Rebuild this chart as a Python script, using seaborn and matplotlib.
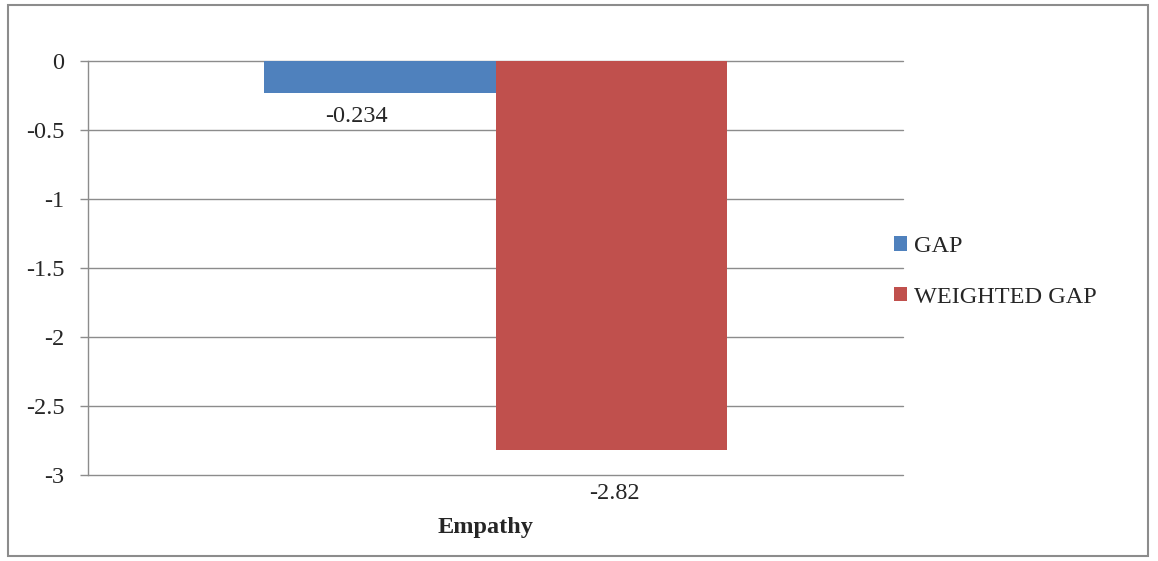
import matplotlib
matplotlib.use("Agg")
import matplotlib.pyplot as plt
import matplotlib.transforms as mtransforms
import seaborn as sns
import pandas as pd
from matplotlib.patches import Rectangle

# Data
categories = ["Empathy"]
series = ["GAP", "WEIGHTED GAP"]
values = [-0.234, -2.82]
value_labels = ["-0.234", "-2.82"]
yticks = [0, -0.5, -1, -1.5, -2, -2.5, -3]
ytick_labels = ["0", "-0.5", "-1", "-1.5", "-2", "-2.5", "-3"]
colors = ["#4F81BD", "#C0504D"]

df = pd.DataFrame({
    "category": categories * len(series),
    "series": series,
    "value": values,
})

sns.set_theme(style="white")
plt.rcParams["font.family"] = ["Liberation Serif", "DejaVu Serif"]
plt.rcParams["axes.unicode_minus"] = False

FS = 17.5

fig = plt.figure(figsize=(11.58, 5.61), dpi=100)
ax = fig.add_axes([88 / 1158, 1 - 475 / 561, (903 - 88) / 1158, (475 - 61) / 561])

sns.barplot(data=df, x="category", y="value", hue="series",
            palette=colors, width=0.569, gap=0, dodge=True, ax=ax,
            saturation=1, errorbar=None, legend=True, linewidth=0, zorder=3)

ax.set_xlim(-0.5, 0.5)
ax.set_ylim(-3, 0)
ax.set_yticks(yticks)
ax.set_yticklabels(ytick_labels, fontsize=FS)
ax.set_xlabel("")
ax.set_ylabel("")

grid_color = "#8C8C8C"
ax.yaxis.grid(True, color=grid_color, linewidth=1, zorder=0)
for gl in ax.get_ygridlines():
    gl.set_clip_on(False)
ax.set_axisbelow(True)
for side in ["top", "right", "bottom"]:
    ax.spines[side].set_visible(False)
ax.spines["left"].set_color(grid_color)
ax.spines["left"].set_linewidth(1)
ax.tick_params(axis="y", direction="out", length=6, width=1, color=grid_color,
               pad=11, left=True, labelsize=FS)
ax.tick_params(axis="x", length=0, pad=30)
shift = mtransforms.ScaledTranslation(-10 / 100, 0, fig.dpi_scale_trans)
for lab in ax.get_xticklabels():
    lab.set_fontweight("bold")
    lab.set_fontsize(FS)
    lab.set_transform(lab.get_transform() + shift)

# Value labels below each bar (offsets in points)
offsets = [(-17, -17), (2, -31)]
for bar, txt, off in zip(ax.patches[:len(values)], value_labels, offsets):
    x = bar.get_x() + bar.get_width() / 2
    y = min(bar.get_y(), bar.get_y() + bar.get_height())
    ax.annotate(txt, (x, y), xytext=off, textcoords="offset points",
                ha="center", va="center", fontsize=FS)

# Legend on the right
handles, labels = ax.get_legend_handles_labels()
ax.legend(handles, labels, loc="center left",
          bbox_to_anchor=(884 / 1158, 1 - 272 / 561),
          bbox_transform=fig.transFigure, frameon=False, fontsize=FS,
          handlelength=0.55, handleheight=0.55, handletextpad=0.3,
          labelspacing=1.2, borderaxespad=0)

# Outer frame of the chart area
fig.patches.append(Rectangle((8 / 1158, 5 / 561), 1140 / 1158, 551 / 561,
                             transform=fig.transFigure, fill=False,
                             edgecolor="#8C8C8C", linewidth=1.5))

fig.savefig("out.png", dpi=100)
